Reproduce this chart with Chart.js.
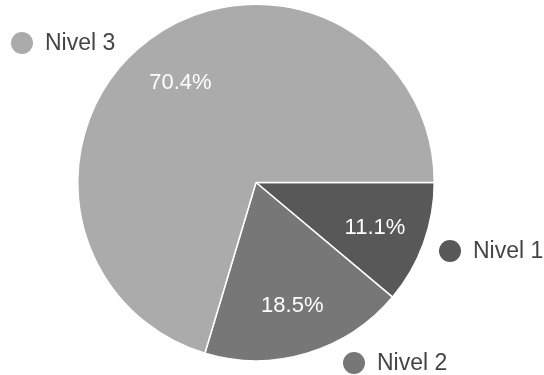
<!DOCTYPE html>
<html>
<head>
<meta charset="utf-8">
<script src="https://cdn.jsdelivr.net/npm/chart.js@4/dist/chart.umd.min.js"></script>
<style>
  html, body { margin: 0; padding: 0; background: #fff; }
  #wrap { width: 544px; height: 375px; }
</style>
</head>
<body>
<div id="wrap"><canvas id="pieChart" width="544" height="375"></canvas></div>
<script>
const labels = ["Nivel 1", "Nivel 2", "Nivel 3"];
const counts = [3, 5, 19];
const colors = ["#585858", "#777777", "#ababab"];

// legend labels sit outside the pie, like the original form summary
const legendSpots = [
  { x: 450, y: 251 },
  { x: 354, y: 363 },
  { x: 22, y: 43 },
];

const sliceLabels = {
  id: "sliceLabels",
  afterDatasetsDraw(chart) {
    const c = chart.ctx;
    const meta = chart.getDatasetMeta(0);
    const total = counts.reduce((a, b) => a + b, 0);
    c.save();
    c.font = "22px 'Liberation Sans', Arial, sans-serif";
    c.fillStyle = "#ffffff";
    c.textAlign = "center";
    c.textBaseline = "middle";
    meta.data.forEach((arc, i) => {
      const p = arc.getProps(["x", "y", "startAngle", "endAngle", "outerRadius"], true);
      const mid = (p.startAngle + p.endAngle) / 2;
      const r = p.outerRadius * 0.71;
      const pct = (counts[i] / total * 100).toFixed(1) + "%";
      c.fillText(pct, p.x + Math.cos(mid) * r, p.y + Math.sin(mid) * r + 2);
    });

    c.font = "23px 'Liberation Sans', Arial, sans-serif";
    c.textAlign = "left";
    legendSpots.forEach((s, i) => {
      c.beginPath();
      c.arc(s.x, s.y, 11, 0, Math.PI * 2);
      c.fillStyle = colors[i];
      c.fill();
      c.fillStyle = "#444444";
      c.fillText(labels[i], s.x + 23, s.y + 1);
    });
    c.restore();
  },
};

new Chart(document.getElementById("pieChart").getContext("2d"), {
  type: "pie",
  data: {
    labels: labels,
    datasets: [
      {
        data: counts,
        backgroundColor: colors,
        borderColor: "#ffffff",
        borderWidth: 1.5,
      },
    ],
  },
  options: {
    responsive: false,
    animation: false,
    rotation: 90,
    layout: {
      padding: { left: 77, right: 109, top: 3, bottom: 13 },
    },
    plugins: {
      legend: { display: false },
      tooltip: { enabled: false },
    },
  },
  plugins: [sliceLabels],
});
</script>
</body>
</html>
